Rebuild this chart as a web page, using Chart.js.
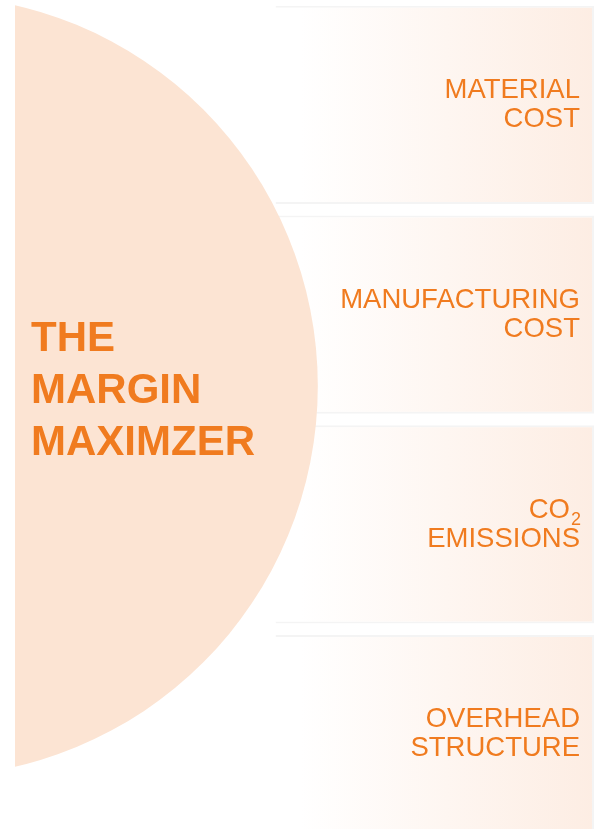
<!DOCTYPE html>
<html>
<head>
<meta charset="utf-8">
<title>The Margin Maximzer</title>
<script src="https://cdn.jsdelivr.net/npm/chart.js@4/dist/chart.umd.min.js"></script>
<style>
    html, body { margin: 0; padding: 0; background: #ffffff; }
    #wrap { position: relative; width: 597px; height: 829px; overflow: hidden; }
    .layer { position: absolute; left: 0; top: 0; width: 597px; height: 839px; }
</style>
</head>
<body>
<div id="wrap">
    <div class="layer"><canvas id="panels"></canvas></div>
    <div class="layer"><canvas id="circle"></canvas></div>
</div>
<script>
// Panel categories (shown as the right-hand labels)
const panelLabels = [
    ['MATERIAL', 'COST'],
    ['MANUFACTURING', 'COST'],
    ['CO\u2082', 'EMISSIONS'],
    ['OVERHEAD', 'STRUCTURE']
];
// Each panel spans the same range on the value axis
const panelSpans = [[45, 100], [45, 100], [45, 100], [45, 100]];
// Big circle: centre point and the x value its right edge reaches
const circlePoints = [{ x: -15.2, y: 46 }];
const circleEdge = [52.3];
const titleLines = ['THE', 'MARGIN', 'MAXIMZER'];

const orange = '#F07B1F';
const circleColor = '#FCE4D3';
const panelColor = '#FDEDE3';
const labelFont = '"Liberation Sans", Arial, sans-serif';
const sharedPadding = { left: 15, right: 3, top: 0, bottom: 0 };

// Draws the headline text inside the circle
const titlePlugin = {
    id: 'titleText',
    afterDatasetsDraw(chart) {
        const ctx = chart.ctx;
        const cy = chart.scales.y.getPixelForValue(circlePoints[0].y);
        ctx.save();
        ctx.font = 'bold 42px ' + labelFont;
        ctx.fillStyle = orange;
        ctx.textAlign = 'left';
        ctx.textBaseline = 'alphabetic';
        titleLines.forEach((line, i) => {
            ctx.fillText(line, chart.chartArea.left + 16, cy + 17 + (i - 1) * 51.6);
        });
        ctx.restore();
    }
};

// Right-aligned multi-line labels, one per category of the y scale
const labelPlugin = {
    id: 'panelLabels',
    afterDatasetsDraw(chart) {
        const ctx = chart.ctx;
        const yScale = chart.scales.y;
        const right = chart.chartArea.right - 14;
        const size = 27.5;
        const lh = 29;
        ctx.save();
        ctx.fillStyle = orange;
        ctx.textAlign = 'right';
        ctx.textBaseline = 'alphabetic';
        chart.data.labels.forEach((lines, i) => {
            const cy = yScale.getPixelForValue(i);
            const top = cy - (lines.length * lh) / 2;
            lines.forEach((line, j) => {
                const base = top + j * lh + lh / 2 + size * 0.358 - 2;
                const sub = line.indexOf('\u2082');
                if (sub >= 0) {
                    // CO2 with a real subscript 2
                    ctx.font = '18px ' + labelFont;
                    const subW = ctx.measureText('2').width;
                    ctx.fillText('2', right + 1, base + 7.5);
                    ctx.font = size + 'px ' + labelFont;
                    ctx.fillText(line.slice(0, sub), right - subW, base);
                } else {
                    ctx.font = size + 'px ' + labelFont;
                    ctx.fillText(line, right, base);
                }
            });
        });
        ctx.restore();
    }
};

function panelGradient(context) {
    const chart = context.chart;
    const area = chart.chartArea;
    if (!area) return panelColor;
    const x = chart.scales.x;
    const g = chart.ctx.createLinearGradient(x.getPixelForValue(panelSpans[0][0]) + 25, 0, area.right, 0);
    g.addColorStop(0, 'rgba(255,255,255,1)');
    g.addColorStop(1, panelColor);
    return g;
}

// Panels with their labels
new Chart(document.getElementById('panels'), {
    type: 'bar',
    data: {
        labels: panelLabels,
        datasets: [{
            data: panelSpans,
            backgroundColor: panelGradient,
            borderColor: 'rgba(0,0,0,0.045)',
            borderWidth: { top: 2, right: 2, bottom: 2, left: 0 },
            borderSkipped: false,
            categoryPercentage: 1,
            barPercentage: 0.944
        }]
    },
    options: {
        indexAxis: 'y',
        responsive: true,
        maintainAspectRatio: false,
        animation: false,
        events: [],
        layout: { autoPadding: false, padding: sharedPadding },
        plugins: {
            legend: { display: false },
            tooltip: { enabled: false }
        },
        scales: {
            x: { type: 'linear', min: 0, max: 100, display: false },
            y: { type: 'category', display: false }
        }
    },
    plugins: [labelPlugin]
});

// Big circle with the headline
const circleChart = new Chart(document.getElementById('circle'), {
    type: 'bubble',
    data: {
        datasets: [{
            data: circlePoints,
            backgroundColor: circleColor,
            borderWidth: 0,
            hoverRadius: 0,
            clip: 0
        }]
    },
    options: {
        responsive: true,
        maintainAspectRatio: false,
        animation: false,
        events: [],
        layout: { autoPadding: false, padding: sharedPadding },
        plugins: {
            legend: { display: false },
            tooltip: { enabled: false }
        },
        scales: {
            x: { type: 'linear', min: 0, max: 100, display: false },
            y: { type: 'linear', min: 0, max: 100, reverse: true, display: false }
        }
    },
    plugins: [titlePlugin]
});

// bubble size = distance from the centre to the edge value, measured on the x scale
const xs = circleChart.scales.x;
const circleR = xs.getPixelForValue(circleEdge[0]) - xs.getPixelForValue(circlePoints[0].x);
circleChart.data.datasets[0].data = circlePoints.map(p => ({ x: p.x, y: p.y, r: circleR }));
circleChart.update();
</script>
</body>
</html>
